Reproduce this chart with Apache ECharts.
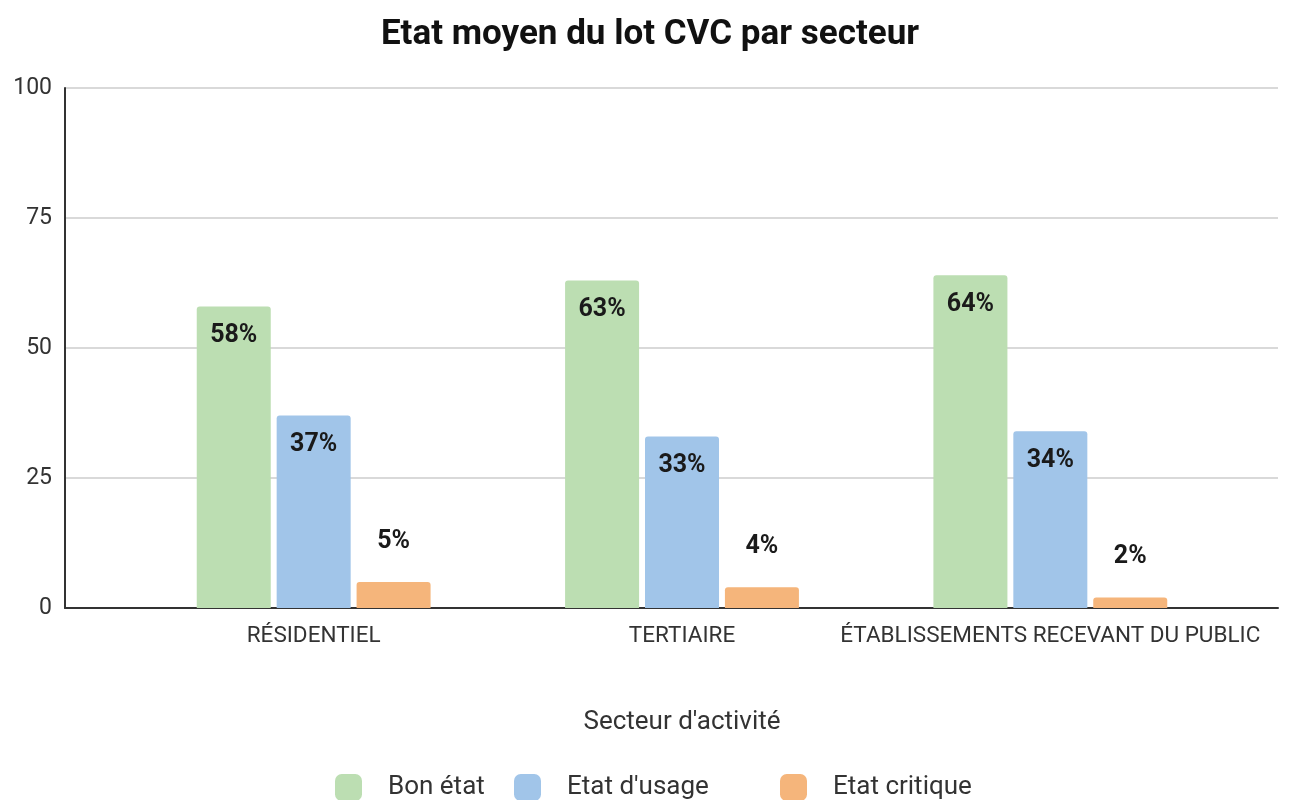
<!DOCTYPE html>
<html>
<head>
<meta charset="utf-8">
<script src="https://cdn.jsdelivr.net/npm/echarts@6/dist/echarts.min.js"></script>
<style>
  html, body { margin: 0; padding: 0; background: #fff; }
  #chart { width: 1300px; height: 800px; }
</style>
</head>
<body>
<div id="chart"></div>
<script>
const categories = ["RÉSIDENTIEL", "TERTIAIRE", "ÉTABLISSEMENTS RECEVANT DU PUBLIC"];
const seriesNames = ["Bon état", "Etat d'usage", "Etat critique"];
const bonEtat = [58, 63, 64];
const etatUsage = [37, 33, 34];
const etatCritique = [5, 4, 2];
const yTicks = [0, 25, 50, 75, 100];

const chart = echarts.init(document.getElementById("chart"));

const font = "Roboto, 'Noto Sans', sans-serif";

// label inside the top of tall bars, above the short ones
function barLabel(pos, dist) {
  return {
    show: true,
    position: pos,
    distance: dist,
    formatter: "{c}%",
    color: "#1a1a1a",
    fontFamily: font,
    fontWeight: "bold",
    fontSize: 25,
  };
}

// one legend per item, the source spaces them unevenly
const legendLefts = [330, 509, 775];
const legends = seriesNames.map((name, i) => ({
  top: 769,
  left: legendLefts[i],
  itemWidth: 27,
  itemHeight: 27,
  icon: "roundRect",
  textStyle: { fontSize: 26, color: "#333", padding: [0, 0, 0, 21] },
  data: [name],
}));

const option = {
  color: ["#bcdeb2", "#a1c5e9", "#f5b57b"],
  textStyle: { fontFamily: font },
  title: {
    text: "Etat moyen du lot CVC par secteur",
    left: "center",
    top: 13,
    textStyle: { fontSize: 35, fontWeight: "bold", color: "#111", fontFamily: font },
  },
  legend: legends,
  grid: [
    // axes frame and gridlines
    { left: 65, right: 22, top: 88, bottom: 192 },
    // bars
    { left: 129.5, right: 65.5, top: 88, bottom: 192 },
  ],
  xAxis: [
    {
      type: "category",
      gridIndex: 0,
      data: categories,
      axisLine: { lineStyle: { color: "#333", width: 2 } },
      axisTick: { show: false },
      axisLabel: { show: false },
    },
    {
      type: "category",
      gridIndex: 1,
      data: categories,
      axisLine: { show: false },
      axisTick: { show: false },
      axisLabel: { color: "#333", fontSize: 22.5, margin: 17, interval: 0 },
      name: "Secteur d'activité",
      nameLocation: "middle",
      nameGap: 101,
      nameTextStyle: { fontSize: 26, color: "#333" },
    },
  ],
  yAxis: [
    {
      type: "value",
      gridIndex: 0,
      min: yTicks[0],
      max: yTicks[yTicks.length - 1],
      interval: 25,
      axisLine: { show: true, lineStyle: { color: "#333", width: 2 } },
      axisTick: { show: false },
      axisLabel: { color: "#333", fontSize: 23, margin: 13 },
      splitLine: { lineStyle: { color: "#cccccc", width: 1.5 } },
    },
    {
      type: "value",
      gridIndex: 1,
      min: 0,
      max: 100,
      interval: 25,
      show: false,
    },
  ],
  series: [
    {
      name: seriesNames[0],
      type: "bar",
      xAxisIndex: 1,
      yAxisIndex: 1,
      data: bonEtat,
      barWidth: 74,
      barGap: "8%",
      itemStyle: { borderRadius: [3, 3, 0, 0] },
      label: barLabel("insideTop", 17),
    },
    {
      name: seriesNames[1],
      type: "bar",
      xAxisIndex: 1,
      yAxisIndex: 1,
      data: etatUsage,
      barWidth: 74,
      barGap: "8%",
      itemStyle: { borderRadius: [3, 3, 0, 0] },
      label: barLabel("insideTop", 17),
    },
    {
      name: seriesNames[2],
      type: "bar",
      xAxisIndex: 1,
      yAxisIndex: 1,
      data: etatCritique,
      barWidth: 74,
      barGap: "8%",
      itemStyle: { borderRadius: [3, 3, 0, 0] },
      label: barLabel("top", 28),
    },
  ],
};

chart.setOption(option);
</script>
</body>
</html>
